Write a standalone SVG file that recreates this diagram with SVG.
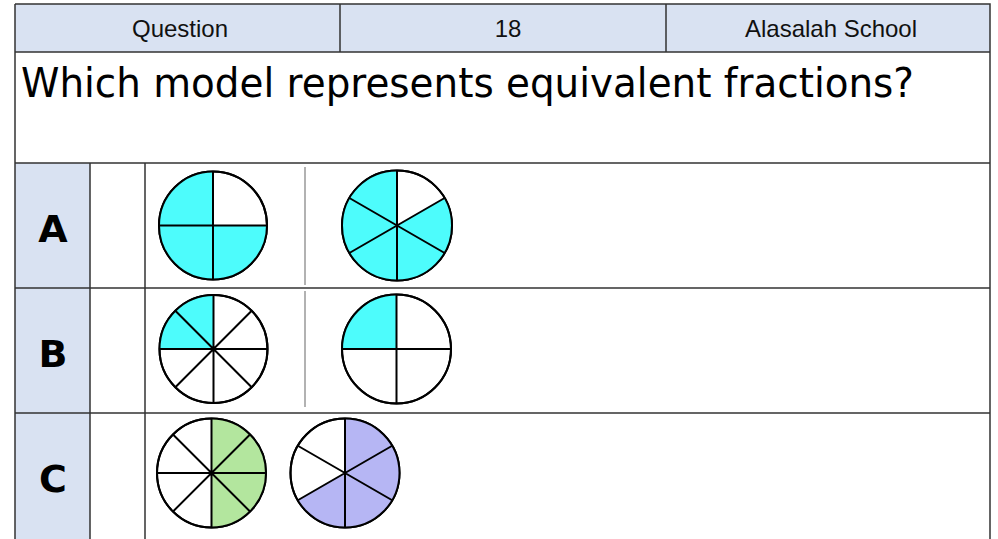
<svg xmlns="http://www.w3.org/2000/svg" width="998" height="539" viewBox="0 0 998 539">
<style>
.hdr{fill:#d9e2f2}
.grid{stroke:#333;stroke-width:1.5;fill:none}
.sep{stroke:#999;stroke-width:1.5}
.ht{font-family:"Liberation Sans",Arial,sans-serif;font-size:24px;fill:#111;text-anchor:middle}
.q{font-family:"DejaVu Sans",sans-serif;font-size:40px;fill:#000}
.lbl{font-family:"DejaVu Sans",sans-serif;font-size:38px;font-weight:bold;fill:#000;text-anchor:middle}
.ring{fill:#fff;stroke:#000;stroke-width:2}
.ln{stroke:#000;stroke-width:2;fill:none}
.cy{fill:#4dfcfc}
.gr{fill:#b3e69e}
.pu{fill:#b6b6f4}
</style>
<rect width="998" height="539" fill="#fff"/>
<g id="header">
<rect class="hdr" x="15" y="4" width="975" height="48"/>
<text class="ht" x="180" y="37">Question</text>
<text class="ht" x="508" y="37">18</text>
<text class="ht" x="831" y="37">Alasalah School</text>
</g>
<g id="question">
<text class="q" x="21" y="97" textLength="893" lengthAdjust="spacingAndGlyphs">Which model represents equivalent fractions?</text>
</g>
<g id="labels">
<rect class="hdr" x="15" y="163" width="75" height="376"/>
<text class="lbl" x="53" y="242">A</text>
<text class="lbl" x="53" y="367">B</text>
<text class="lbl" x="53" y="492">C</text>
</g>
<g id="connectors">
<path class="grid" d="M15,4 H990 V539 M15,4 V539 M15,52 H990 M15,163 H990 M15,288 H990 M15,413 H990 M340,4 V52 M666,4 V52 M90,163 V539 M145,163 V539"/>
<line class="sep" x1="305" y1="167" x2="305" y2="285"/>
<line class="sep" x1="305" y1="291" x2="305" y2="407"/>
</g>
<g id="a1">
<circle class="ring" cx="213" cy="225.5" r="54"/>
<path class="cy" d="M213,225.5 L213,171.5 A54,54 0 1,0 267,225.5 Z"/>
<path class="ln" d="M213,171.5 V279.5 M159,225.5 H267"/>
<circle class="ln" cx="213" cy="225.5" r="54"/>
</g>
<g id="a2">
<circle class="ring" cx="397" cy="225.5" r="55"/>
<path class="cy" d="M397,225.5 L397,170.5 A55,55 0 1,0 444.63,198 Z"/>
<path class="ln" d="M397,170.5 V280.5 M349.37,198 L444.63,253 M444.63,198 L349.37,253"/>
<circle class="ln" cx="397" cy="225.5" r="55"/>
</g>
<g id="b1">
<circle class="ring" cx="213.5" cy="349" r="54"/>
<path class="cy" d="M213.5,349 L213.5,295 A54,54 0 0,0 159.5,349 Z"/>
<path class="ln" d="M213.5,295 V403 M159.5,349 H267.5 M175.32,310.82 L251.68,387.18 M251.68,310.82 L175.32,387.18"/>
<circle class="ln" cx="213.5" cy="349" r="54"/>
</g>
<g id="b2">
<circle class="ring" cx="396.5" cy="349" r="54.5"/>
<path class="cy" d="M396.5,349 L396.5,294.5 A54.5,54.5 0 0,0 342,349 Z"/>
<path class="ln" d="M396.5,294.5 V403.5 M342,349 H451"/>
<circle class="ln" cx="396.5" cy="349" r="54.5"/>
</g>
<g id="c1">
<circle class="ring" cx="211.5" cy="473" r="54.5"/>
<path class="gr" d="M211.5,418.5 A54.5,54.5 0 0,1 211.5,527.5 Z"/>
<path class="ln" d="M211.5,418.5 V527.5 M157,473 H266 M172.96,434.46 L250.04,511.54 M250.04,434.46 L172.96,511.54"/>
<circle class="ln" cx="211.5" cy="473" r="54.5"/>
</g>
<g id="c2">
<circle class="ring" cx="345" cy="473" r="54.5"/>
<path class="pu" d="M345,473 L345,418.5 A54.5,54.5 0 1,1 297.8,500.25 Z"/>
<path class="ln" d="M345,418.5 V527.5 M297.8,445.75 L392.2,500.25 M392.2,445.75 L297.8,500.25"/>
<circle class="ln" cx="345" cy="473" r="54.5"/>
</g>
</svg>
